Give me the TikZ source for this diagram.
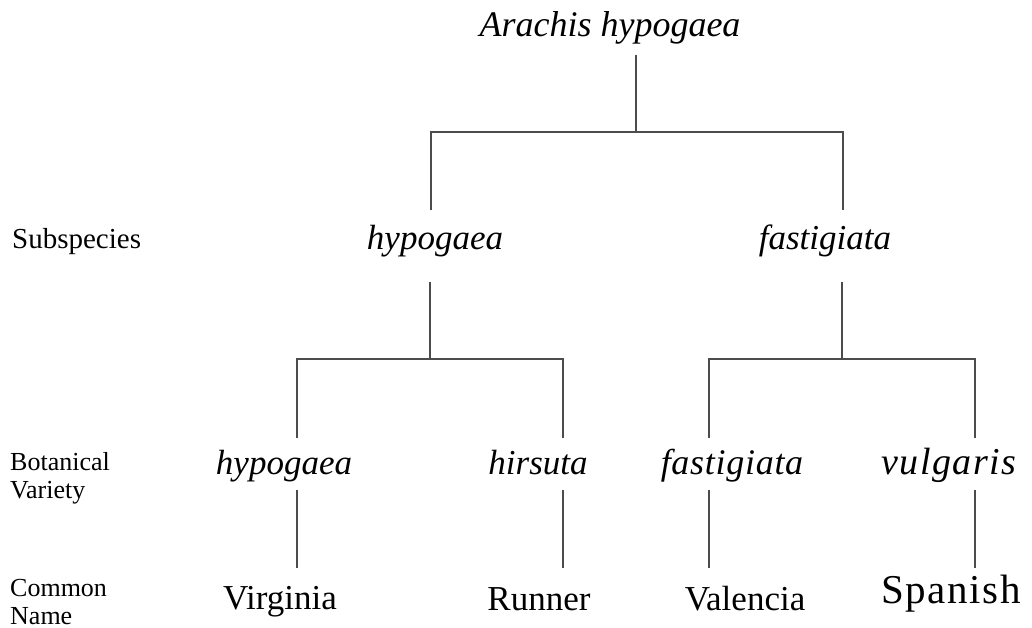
\documentclass[tikz,border=0pt]{standalone}
\usepackage{fontspec}
\setmainfont{Liberation Serif}
\newcommand{\spaced}[2]{{\addfontfeatures{LetterSpace=#1}#2}}
\begin{document}
\begin{tikzpicture}[x=1pt,y=-1pt,
  lbl/.style={anchor=base,inner sep=0pt,outer sep=0pt},
  sp/.style={lbl,font=\fontsize{35}{40}\selectfont\itshape},
  cn/.style={lbl,font=\fontsize{35}{40}\selectfont},
  side/.style={anchor=base west,inner sep=0pt,font=\fontsize{26}{29}\selectfont,align=left},
  link/.style={draw=black!70,line width=1.6pt}]
\useasboundingbox[fill=white] (0,0) rectangle (1032,628);
% texts
\node[lbl,font=\fontsize{36}{40}\selectfont\itshape] (root) at (610,37) {Arachis hypogaea};
\node[side,font=\fontsize{29}{32}\selectfont] (lsub) at (12,248) {Subspecies};
\node[sp] (ssh) at (435,249) {hypogaea};
\node[sp] (ssf) at (825,249) {fastigiata};
\node[side] (lbot) at (10,470) {Botanical};
\node[side] (lvar) at (10,498) {Variety};
\node[sp] (vhy) at (284,474) {hypogaea};
\node[sp] (vhi) at (538,474) {hirsuta};
\node[sp,font=\fontsize{36}{40}\selectfont\itshape] (vfa) at (732,474) {\spaced{2}{fastigiata}};
\node[sp,font=\fontsize{38}{42}\selectfont\itshape] (vvu) at (949,474) {\spaced{4}{vulgaris}};
\node[side] (lcom) at (10,596) {Common};
\node[side] (lnam) at (10,624) {Name};
\node[cn] (cvi) at (280,609) {Virginia};
\node[cn] (cru) at (539,610) {Runner};
\node[cn] (cva) at (745,610) {Valencia};
\node[cn,font=\fontsize{41}{46}\selectfont] (csp) at (951,603) {\spaced{4}{Spanish}};
% connector points
\coordinate (r0) at (636,55);
\coordinate (r1) at (636,132);
\coordinate (rl) at (431,132);
\coordinate (rr) at (843,132);
\coordinate (rlb) at (431,210);
\coordinate (rrb) at (843,210);
\coordinate (h0) at (430,282);
\coordinate (h1) at (430,359);
\coordinate (hl) at (297,359);
\coordinate (hr) at (563,359);
\coordinate (hlb) at (297,438);
\coordinate (hrb) at (563,438);
\coordinate (f0) at (842,282);
\coordinate (f1) at (842,359);
\coordinate (fl) at (709,359);
\coordinate (fr) at (975,359);
\coordinate (flb) at (709,438);
\coordinate (frb) at (975,438);
\coordinate (a0) at (297,490); \coordinate (a1) at (297,568);
\coordinate (b0) at (563,490); \coordinate (b1) at (563,568);
\coordinate (c0) at (709,490); \coordinate (c1) at (709,568);
\coordinate (d0) at (975,490); \coordinate (d1) at (975,568);
% connectors
\draw[link] (r0) -- (r1);
\draw[link] (rlb) -- (rl) -- (rr) -- (rrb);
\draw[link] (h0) -- (h1);
\draw[link] (hlb) -- (hl) -- (hr) -- (hrb);
\draw[link] (f0) -- (f1);
\draw[link] (flb) -- (fl) -- (fr) -- (frb);
\draw[link] (a0) -- (a1);
\draw[link] (b0) -- (b1);
\draw[link] (c0) -- (c1);
\draw[link] (d0) -- (d1);
\end{tikzpicture}
\end{document}
